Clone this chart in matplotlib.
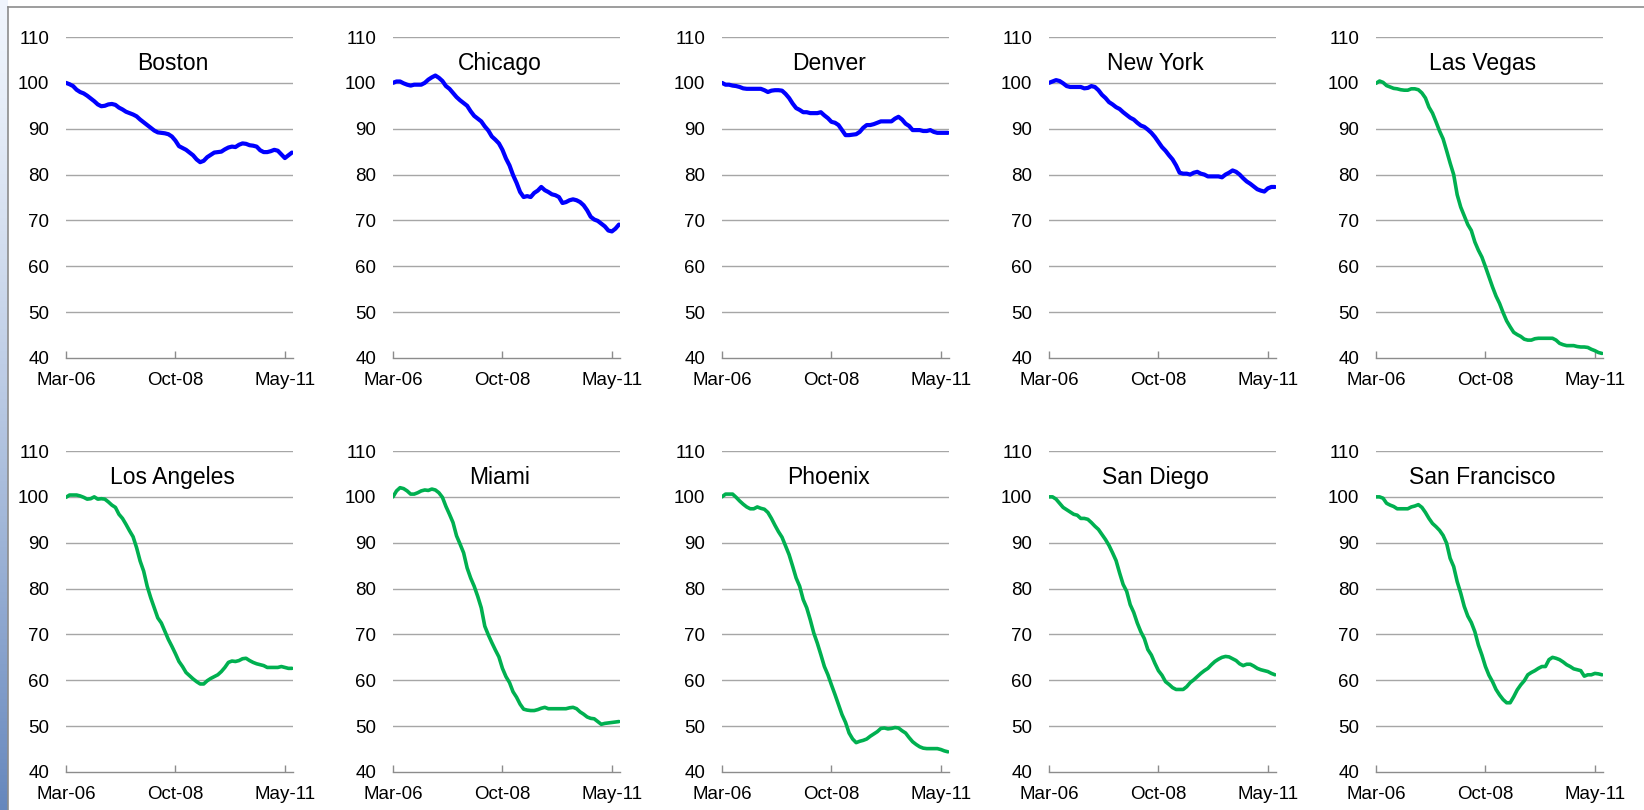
import numpy as np
import pandas as pd
import matplotlib
matplotlib.use('Agg')
import matplotlib.pyplot as plt

plt.rcParams['font.family'] = ['Liberation Sans', 'DejaVu Sans']

# monthly index values, Mar-06 .. Jul-11 (Mar-06 = 100)
months = pd.date_range('2006-03-01', periods=65, freq='MS')
tick_labels = ['Mar-06', 'Oct-08', 'May-11']

boston = [100.0, 99.7, 99.3, 98.5, 98.0, 97.7, 97.2, 96.6, 96.0, 95.3, 94.9, 95.0, 95.3, 95.4, 95.2, 94.6,
          94.2, 93.7, 93.4, 93.1, 92.7, 92.0, 91.4, 90.8, 90.2, 89.6, 89.2, 89.1, 89.0, 88.8, 88.3, 87.4,
          86.2, 85.8, 85.4, 84.8, 84.2, 83.3, 82.7, 83.0, 83.8, 84.3, 84.8, 84.9, 85.0, 85.5, 85.9, 86.1,
          86.0, 86.5, 86.8, 86.7, 86.4, 86.3, 86.1, 85.3, 84.9, 84.9, 85.1, 85.4, 85.2, 84.4, 83.6, 84.2, 84.8]
chicago = [100.0, 100.3, 100.3, 99.9, 99.6, 99.4, 99.6, 99.6, 99.6, 100.0, 100.7, 101.2, 101.6, 101.1, 100.4, 99.3,
           98.7, 97.8, 96.9, 96.2, 95.6, 95.0, 93.8, 92.8, 92.2, 91.6, 90.5, 89.6, 88.3, 87.6, 86.8, 85.4,
           83.5, 82.0, 79.9, 78.2, 76.2, 75.1, 75.3, 75.1, 76.0, 76.5, 77.3, 76.6, 76.2, 75.7, 75.5, 75.1,
           73.8, 74.0, 74.4, 74.6, 74.4, 74.0, 73.3, 72.2, 70.8, 70.2, 69.9, 69.3, 68.7, 67.8, 67.6, 68.2, 69.1]
denver = [100.0, 99.6, 99.6, 99.4, 99.3, 99.1, 98.8, 98.7, 98.7, 98.7, 98.7, 98.7, 98.4, 98.0, 98.3, 98.4,
          98.4, 98.3, 97.6, 96.7, 95.5, 94.5, 94.1, 93.6, 93.6, 93.4, 93.4, 93.4, 93.6, 92.9, 92.3, 91.5,
          91.3, 90.8, 89.7, 88.6, 88.6, 88.7, 88.8, 89.3, 90.2, 90.8, 90.8, 91.0, 91.3, 91.6, 91.6, 91.6,
          91.6, 92.2, 92.6, 92.0, 91.1, 90.6, 89.7, 89.7, 89.7, 89.5, 89.5, 89.7, 89.3, 89.1, 89.1, 89.1, 89.1]
new_york = [100.0, 100.3, 100.6, 100.4, 99.9, 99.3, 99.1, 99.1, 99.1, 99.1, 98.8, 98.9, 99.3, 99.1, 98.4, 97.4,
            96.7, 95.8, 95.3, 94.7, 94.3, 93.6, 93.0, 92.4, 92.0, 91.3, 90.7, 90.4, 89.8, 89.1, 88.2, 87.1,
            86.0, 85.2, 84.2, 83.3, 82.0, 80.4, 80.2, 80.2, 80.0, 80.4, 80.6, 80.2, 80.0, 79.6, 79.6, 79.6,
            79.6, 79.4, 80.0, 80.4, 80.9, 80.6, 80.0, 79.2, 78.5, 78.0, 77.4, 76.8, 76.5, 76.3, 77.0, 77.3, 77.3]
las_vegas = [99.9, 100.4, 100.1, 99.4, 99.1, 98.8, 98.7, 98.5, 98.4, 98.4, 98.7, 98.7, 98.5, 97.8, 96.7, 94.7,
             93.4, 91.5, 89.5, 87.8, 85.2, 82.5, 80.0, 75.6, 72.9, 71.0, 69.1, 67.8, 65.3, 63.5, 62.0, 59.9,
             57.7, 55.5, 53.5, 51.9, 49.9, 48.1, 46.8, 45.6, 45.1, 44.7, 44.1, 43.9, 43.9, 44.2, 44.3, 44.3,
             44.3, 44.3, 44.3, 43.9, 43.2, 42.9, 42.7, 42.7, 42.7, 42.5, 42.4, 42.4, 42.3, 41.9, 41.6, 41.2, 41.0]
los_angeles = [99.9, 100.4, 100.4, 100.4, 100.2, 99.9, 99.5, 99.6, 100.0, 99.5, 99.6, 99.5, 98.9, 98.2, 97.7, 96.2,
               95.3, 94.0, 92.6, 91.3, 88.9, 86.0, 83.8, 80.5, 78.0, 75.8, 73.6, 72.5, 70.7, 68.9, 67.4, 65.8,
               64.1, 63.0, 61.7, 61.0, 60.3, 59.7, 59.2, 59.2, 59.9, 60.4, 60.8, 61.2, 61.9, 62.8, 63.9, 64.2,
               64.1, 64.3, 64.7, 64.8, 64.3, 63.9, 63.6, 63.4, 63.2, 62.8, 62.8, 62.8, 62.8, 63.0, 62.8, 62.6, 62.6]
miami = [100.0, 101.3, 102.0, 101.8, 101.3, 100.6, 100.6, 100.9, 101.3, 101.5, 101.4, 101.7, 101.5, 100.9, 99.9, 97.9,
         96.2, 94.4, 91.5, 89.7, 87.8, 84.5, 82.3, 80.5, 78.3, 75.8, 71.8, 69.9, 68.2, 66.6, 65.1, 62.6,
         60.8, 59.5, 57.5, 56.3, 54.8, 53.7, 53.5, 53.4, 53.4, 53.6, 53.9, 54.1, 53.8, 53.8, 53.8, 53.8,
         53.8, 53.8, 54.0, 54.1, 53.8, 53.1, 52.6, 52.0, 51.7, 51.6, 51.0, 50.4, 50.6, 50.7, 50.8, 50.9, 51.0]
phoenix = [100.0, 100.6, 100.6, 100.6, 99.9, 99.1, 98.4, 97.8, 97.4, 97.4, 97.8, 97.5, 97.3, 96.6, 95.3, 93.8,
           92.4, 91.2, 89.3, 87.4, 84.9, 82.3, 80.5, 77.6, 75.8, 73.2, 70.3, 68.1, 65.6, 63.0, 61.2, 59.0,
           56.9, 54.7, 52.5, 50.8, 48.5, 47.2, 46.4, 46.7, 46.9, 47.2, 47.8, 48.3, 48.8, 49.5, 49.6, 49.4,
           49.5, 49.7, 49.6, 49.0, 48.5, 47.5, 46.6, 46.0, 45.5, 45.2, 45.1, 45.1, 45.1, 45.1, 44.9, 44.6, 44.4]
san_diego = [100.0, 100.0, 99.5, 98.6, 97.7, 97.2, 96.7, 96.2, 96.0, 95.3, 95.3, 95.1, 94.4, 93.6, 92.9, 91.8,
             90.7, 89.4, 87.8, 86.1, 83.4, 80.9, 79.4, 76.5, 74.8, 72.5, 70.6, 69.1, 66.7, 65.5, 63.7, 62.1,
             61.1, 59.7, 59.1, 58.4, 58.0, 58.0, 58.0, 58.6, 59.5, 60.1, 60.8, 61.5, 62.1, 62.6, 63.4, 64.1,
             64.6, 65.0, 65.2, 65.1, 64.7, 64.3, 63.6, 63.2, 63.5, 63.5, 63.1, 62.6, 62.3, 62.1, 61.9, 61.5, 61.2]
san_francisco = [100.0, 100.0, 99.7, 98.6, 98.2, 97.9, 97.4, 97.4, 97.4, 97.4, 97.8, 98.0, 98.3, 97.7, 96.6, 95.3,
                 94.2, 93.5, 92.7, 91.6, 89.9, 86.6, 84.8, 81.5, 79.0, 76.1, 74.0, 72.6, 70.6, 67.7, 65.5, 63.0,
                 61.1, 59.7, 58.0, 56.8, 55.8, 55.1, 55.1, 56.4, 57.9, 59.0, 59.9, 61.2, 61.7, 62.1, 62.6, 63.0,
                 63.0, 64.5, 65.0, 64.8, 64.5, 64.0, 63.4, 63.0, 62.5, 62.3, 62.1, 60.9, 61.2, 61.2, 61.5, 61.4, 61.2]

cities = ['Boston', 'Chicago', 'Denver', 'New York', 'Las Vegas',
          'Los Angeles', 'Miami', 'Phoenix', 'San Diego', 'San Francisco']
series = [boston, chicago, denver, new_york, las_vegas,
          los_angeles, miami, phoenix, san_diego, san_francisco]
# blue = milder markets, green = the boom/bust ones
blue_cities = ['Boston', 'Chicago', 'Denver', 'New York']

W, H = 1644, 810
fig = plt.figure(figsize=(W / 100, H / 100), dpi=100)
fig.patch.set_facecolor('white')

# slide-like frame: gradient strip on the left + thin gray border
strip = fig.add_axes([0, 0, 7 / W, 1])
grad = np.linspace(0, 1, 256)[:, None]
top_c = np.array([0.94, 0.96, 0.99])
bot_c = np.array([0.40, 0.53, 0.74])
img = top_c[None, None, :] * (1 - grad[:, :, None] ** 1.3) + bot_c[None, None, :] * grad[:, :, None] ** 1.3
strip.imshow(img, aspect='auto', extent=[0, 1, 0, 1])
strip.axis('off')
fig.add_artist(plt.Line2D([7.5 / W, 7.5 / W], [0, 1 - 6.5 / H], color='#8c8c8c', lw=1.2))
fig.add_artist(plt.Line2D([7.5 / W, 1], [1 - 6.5 / H, 1 - 6.5 / H], color='#8c8c8c', lw=1.2))

lefts = [66, 393, 722, 1049, 1376]
tops = [37, 451]
aw, ah = 227, 321

x = np.arange(len(months))
for k, (name, vals) in enumerate(zip(cities, series)):
    r, c = divmod(k, 5)
    ax = fig.add_axes([lefts[c] / W, 1 - (tops[r] + ah) / H, aw / W, ah / H])
    if name in blue_cities:
        color, lw = '#0000ff', 3.0
    else:
        color, lw = '#00b050', 2.6
    ax.plot(x, vals, color=color, lw=lw, solid_capstyle='round', solid_joinstyle='round', zorder=3)
    ax.set_ylim(40, 110)
    ax.set_xlim(0, 64.3)
    ax.set_yticks(range(40, 111, 10))
    ax.set_xticks([0, 31, 62])
    ax.set_xticklabels(tick_labels)
    for v in range(50, 111, 10):
        ax.axhline(v, color='#a6a6a6', lw=1.0, zorder=1)
    for s in ['top', 'right', 'left']:
        ax.spines[s].set_visible(False)
    ax.spines['bottom'].set_color('#8c8c8c')
    ax.spines['bottom'].set_linewidth(1.0)
    ax.tick_params(axis='y', length=0, pad=12, labelsize=13.5, colors='black')
    ax.tick_params(axis='x', direction='in', length=5, width=1, color='#8c8c8c',
                   pad=10, labelsize=13.5, labelcolor='black')
    ax.set_facecolor('none')
    ax.text(0.47, 0.918, name, transform=ax.transAxes, ha='center', va='center', fontsize=16.5)

plt.savefig('out.png', dpi=100)
